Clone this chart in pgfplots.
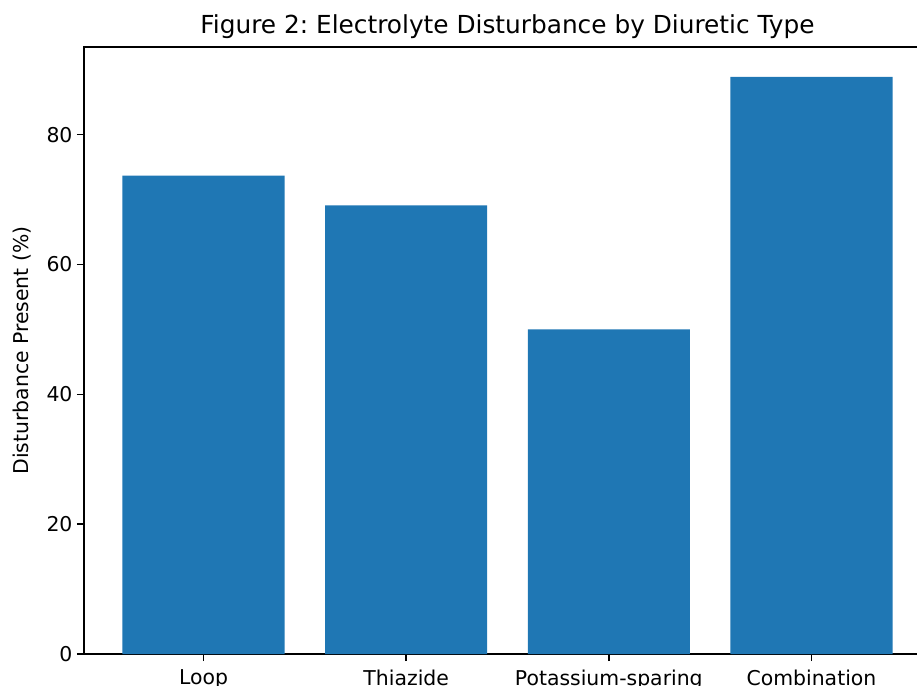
\documentclass[border=0pt]{standalone}
\usepackage{pgfplots}
\pgfplotsset{compat=1.18}
\usepackage{fontspec}
\setmainfont{DejaVu Sans}
\frenchspacing
\definecolor{mplblue}{HTML}{1F77B4}
\begin{document}
\begin{tikzpicture}
\begin{axis}[
  at={(0,0)}, anchor=south west,
  scale only axis,
  width=847bp, height=607bp,
  xmin=-0.59, xmax=3.59,
  ymin=0, ymax=93.5,
  ybar, bar width=0.8,
  xtick={0,1,2,3},
  xticklabels={Loop,Thiazide,Potassium-sparing,Combination},
  ytick={0,20,40,60,80},
  xtick pos=left, ytick pos=left,
  tick align=outside,
  major tick length=7bp,
  tick style={line width=1.6bp, color=black},
  axis line style={line width=1.6bp},
  /pgf/number format/assume math mode=true,
  tick label style={font=\fontsize{20.4bp}{24bp}\selectfont},
  xticklabel style={yshift=-5bp},
  yticklabel style={xshift=-1bp},
  title={Figure 2: Electrolyte Disturbance by Diuretic Type},
  title style={font=\fontsize{24.8bp}{28bp}\selectfont, at={(axis description cs:0.5,1)}, anchor=base, yshift=8bp},
  ylabel={Disturbance Present (\%)},
  ylabel style={font=\fontsize{20.4bp}{24bp}\selectfont, at={(axis description cs:0,0.5)}, anchor=center, yshift=62bp},
  clip=false,
]
\addplot[fill=mplblue, draw=none] coordinates {(0,73.7) (1,69.1) (2,50.0) (3,88.9)};
\end{axis}
\pgfresetboundingbox
\useasboundingbox (-84bp,-32bp) rectangle (833bp,654bp);
\end{tikzpicture}
\end{document}
